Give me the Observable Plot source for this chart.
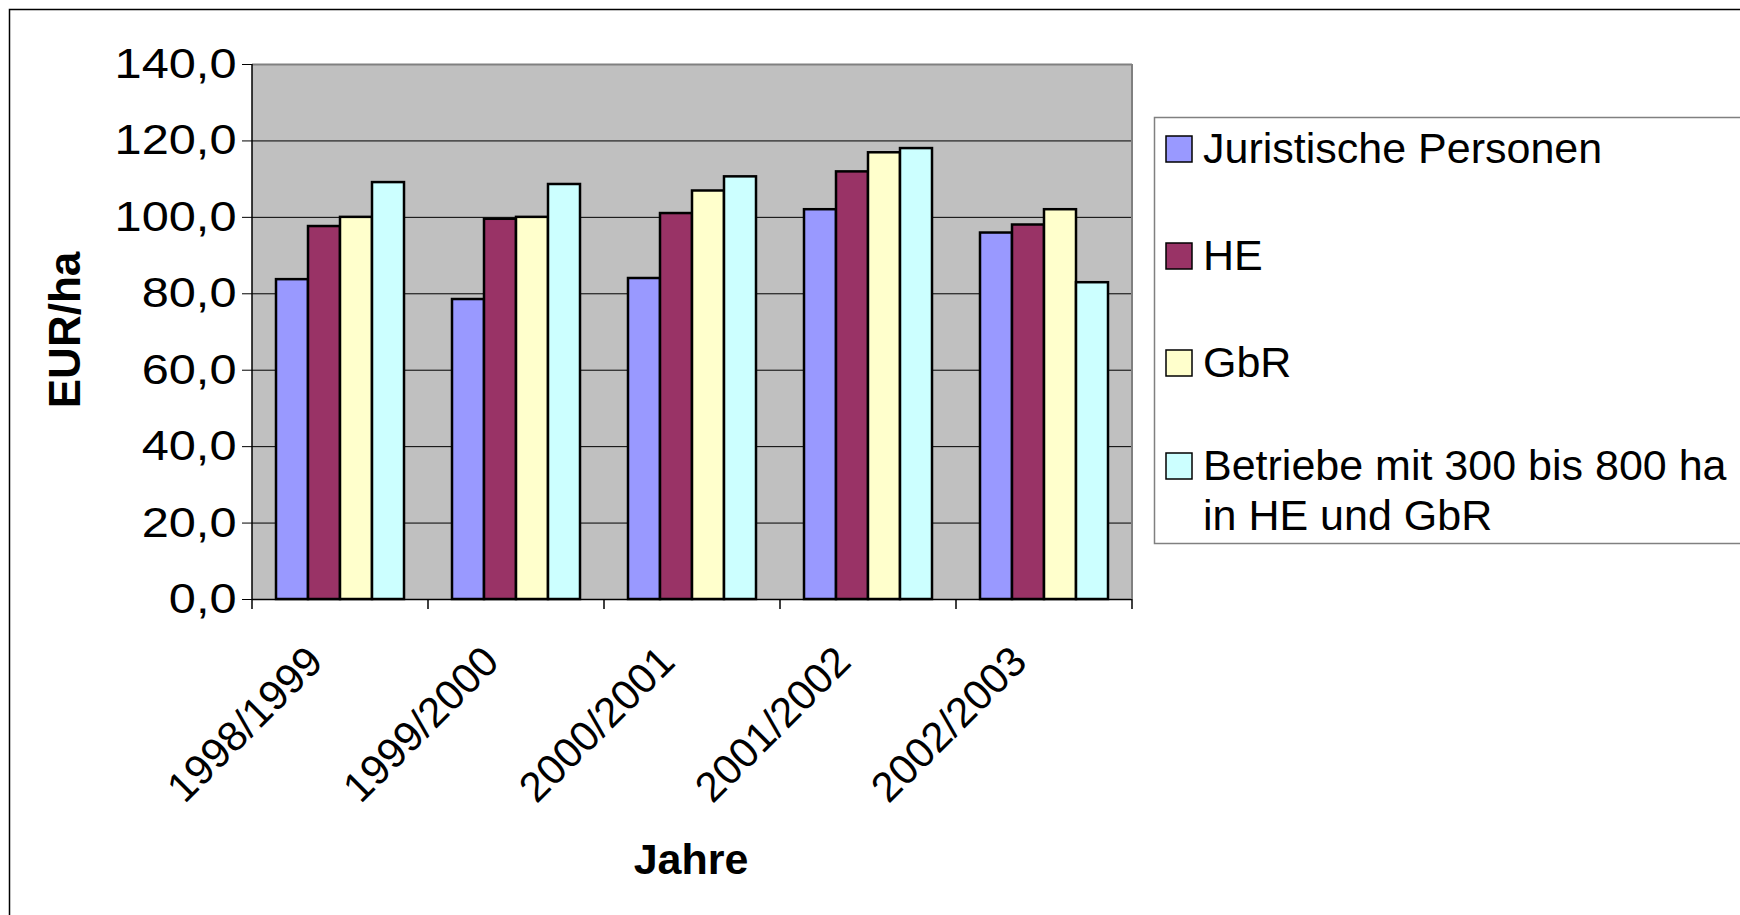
<!DOCTYPE html>
<html><head><meta charset="utf-8">
<script src="https://cdn.jsdelivr.net/npm/d3@7"></script>
<script src="https://cdn.jsdelivr.net/npm/@observablehq/plot@0.6"></script>
<style>body{margin:0;background:#fff;} #chart svg{display:block}</style>
</head><body><div id="chart"></div>
<script>
const years = ["1998/1999", "1999/2000", "2000/2001", "2001/2002", "2002/2003"];
const series = ["Juristische Personen", "HE", "GbR", "Betriebe mit 300 bis 800 ha in HE und GbR"];
const legendLines = [["Juristische Personen"], ["HE"], ["GbR"], ["Betriebe mit 300 bis 800 ha", "in HE und GbR"]];
const jurPersonen = [83.7, 78.5, 84.0, 102.0, 95.9];
const heValues = [97.6, 99.5, 101.0, 111.9, 98.0];
const gbrValues = [100.0, 100.0, 106.9, 116.9, 102.0];
const betriebeValues = [109.1, 108.6, 110.6, 118.0, 82.9];
const colors = ["#9999FF", "#993366", "#FFFFCC", "#CCFFFF"];
const yTicks = [0, 20, 40, 60, 80, 100, 120, 140];
const yLabel = "EUR/ha";
const xLabel = "Jahre";

const valueSets = [jurPersonen, heValues, gbrValues, betriebeValues];
const data = years.flatMap((yr, i) => series.map((s, j) => ({year: yr, series: s, value: valueSets[j][i]})));

const W = 1740, H = 915;
const mL = 252, mR = 608, mT = 64, mB = 316;
const fmt = d => d.toFixed(1).replace(".", ",");
const FONT = "'Liberation Sans', Arial, sans-serif";

const chart = Plot.plot({
  width: W, height: H,
  marginLeft: mL, marginRight: mR, marginTop: mT, marginBottom: mB,
  style: {fontFamily: FONT, fontSize: "41px", color: "#000", background: "#fff", overflow: "visible"},
  fx: {domain: years, padding: 0, label: null},
  x: {domain: series, paddingInner: 0, paddingOuter: 0.733, axis: null},
  y: {domain: [0, 140], label: null},
  color: {domain: series, range: colors},
  marks: [
    Plot.gridY(yTicks.slice(1, -1), {stroke: "#000", strokeOpacity: 1, strokeWidth: 1}),
    Plot.ruleY([140], {stroke: "#808080", strokeWidth: 2}),
    Plot.barY(data, {fx: "year", x: "series", y: "value", fill: "series", stroke: "#000", strokeWidth: 2.5}),
    Plot.ruleY([0], {stroke: "#000", strokeWidth: 1.5}),
    Plot.axisY(yTicks, {tickFormat: fmt, tickSize: 10, tickPadding: 6, fontSize: 42, label: null}),
    Plot.axisFx({anchor: "bottom", tickRotate: -45, tickSize: 0, tickPadding: 55, dx: -25, fontSize: 42, label: null})
  ]
});
document.getElementById("chart").appendChild(chart);

const svg = d3.select(chart);
const fxs = chart.scale("fx");
// plot area background under everything
svg.insert("rect", ":first-child").attr("x", mL).attr("y", mT).attr("width", W - mL - mR).attr("height", H - mT - mB)
  .attr("fill", "#C0C0C0");
// stretch y tick labels horizontally like the original rendering
svg.selectAll("g[aria-label='y-axis tick label'] text").each(function() {
  const len = this.getComputedTextLength();
  d3.select(this).attr("textLength", len * 1.16).attr("lengthAdjust", "spacingAndGlyphs");
});
// axis lines
svg.append("line").attr("x1", mL).attr("x2", mL).attr("y1", mT).attr("y2", H - mB).attr("stroke", "#000").attr("stroke-width", 1.5);
svg.append("line").attr("x1", W - mR).attr("x2", W - mR).attr("y1", mT).attr("y2", H - mB).attr("stroke", "#808080").attr("stroke-width", 2);
// category boundary ticks
const bounds = years.map(y => fxs.apply(y)).concat([fxs.apply(years[years.length - 1]) + fxs.bandwidth]);
svg.append("g").selectAll("line").data(bounds).join("line")
  .attr("x1", d => d).attr("x2", d => d).attr("y1", H - mB).attr("y2", H - mB + 10)
  .attr("stroke", "#000").attr("stroke-width", 1.5);
// titles
svg.append("text").attr("transform", `translate(80,330) rotate(-90)`).attr("text-anchor", "middle")
  .attr("font-family", FONT).attr("font-size", 44).attr("font-weight", "bold").attr("fill", "#000").text(yLabel);
svg.append("text").attr("x", 691).attr("y", 874).attr("text-anchor", "middle")
  .attr("font-family", FONT).attr("font-size", 43).attr("font-weight", "bold").attr("fill", "#000").text(xLabel);
// outer border
svg.append("rect").attr("x", 9.5).attr("y", 9.5).attr("width", W + 50).attr("height", H + 50)
  .attr("fill", "none").attr("stroke", "#000").attr("stroke-width", 1.5);
// legend
const lg = svg.append("g").attr("text-anchor", "start");
lg.append("rect").attr("x", 1154.5).attr("y", 117.5).attr("width", 700).attr("height", 426)
  .attr("fill", "#fff").attr("stroke", "#808080").attr("stroke-width", 1.5);
const baselines = [163, 270, 377, 480];
series.forEach((s, i) => {
  lg.append("rect").attr("x", 1166).attr("y", baselines[i] - 27).attr("width", 26).attr("height", 26)
    .attr("fill", colors[i]).attr("stroke", "#000").attr("stroke-width", 1.5);
  const t = lg.append("text").attr("x", 1203).attr("y", baselines[i]).attr("font-family", FONT)
    .attr("font-size", 43).attr("fill", "#000").attr("text-anchor", "start");
  legendLines[i].forEach((ln, k) => {
    t.append("tspan").attr("x", 1203).attr("dy", k === 0 ? 0 : 50).text(ln);
  });
});
</script>
</body></html>
